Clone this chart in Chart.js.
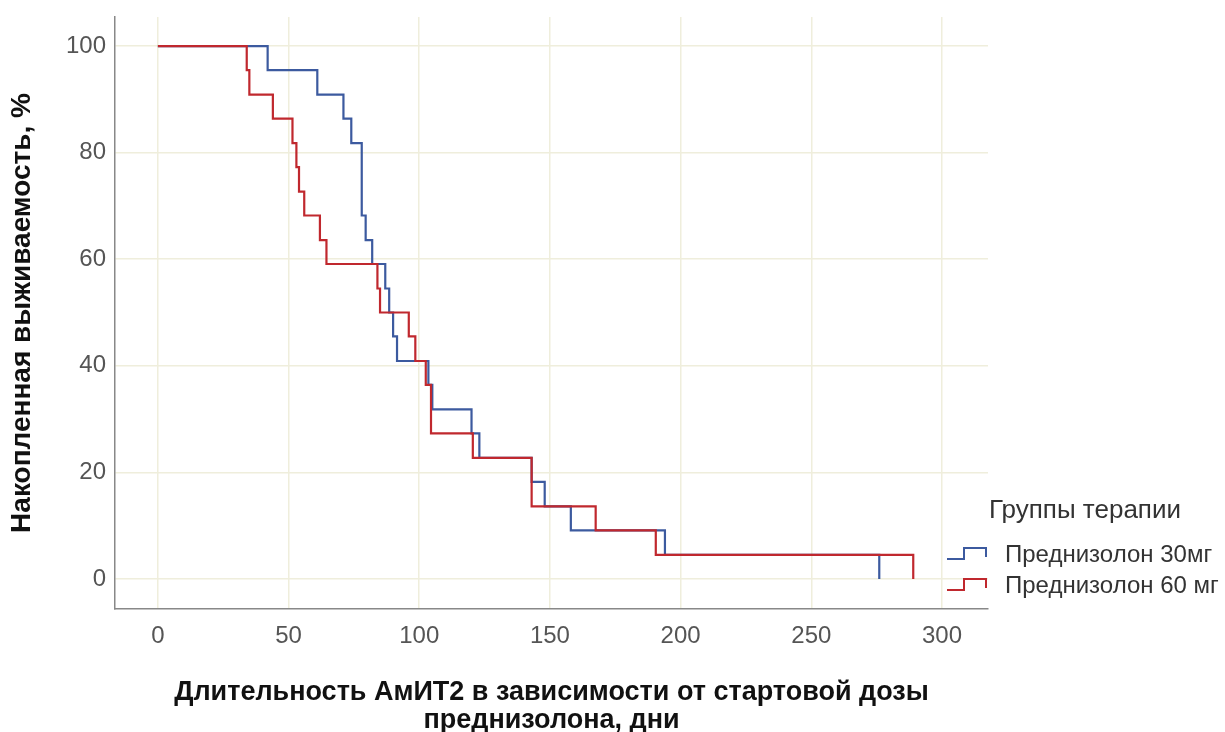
<!DOCTYPE html>
<html>
<head>
<meta charset="utf-8">
<script src="https://cdn.jsdelivr.net/npm/chart.js@4"></script>
<style>
  html, body { margin: 0; padding: 0; background: #fff; }
  canvas { display: block; }
</style>
</head>
<body>
<canvas id="survChart" width="1225" height="732"></canvas>
<script>
// Данные кривых Каплана-Мейера (время в днях, выживаемость в %)
const blueTimes = [0, 42, 61, 71, 74, 78, 79.5, 82, 87, 88.5, 90, 91.5, 103.5, 105, 120, 123, 143, 148, 158, 194, 276];
const blueSurv  = [100, 95.5, 90.9, 86.4, 81.8, 68.2, 63.6, 59.1, 54.5, 50, 45.5, 40.9, 36.4, 31.8, 27.3, 22.7, 18.2, 13.6, 9.1, 4.5, 0];

const redTimes = [0, 34, 35, 44, 51.5, 53, 54, 56, 62, 64.5, 84, 85, 96, 98.5, 102.5, 104.5, 120.5, 143, 167.5, 190.5, 289];
const redSurv  = [100, 95.5, 90.9, 86.4, 81.8, 77.3, 72.7, 68.2, 63.6, 59.1, 54.5, 50, 45.5, 40.9, 36.4, 27.3, 22.7, 13.6, 9.1, 4.5, 0];

const xTicks = [0, 50, 100, 150, 200, 250, 300];
const yTicks = [0, 20, 40, 60, 80, 100];

const groupLabels = ['Преднизолон 30мг', 'Преднизолон 60 мг'];
const legendTitle = 'Группы терапии';

const BLUE = '#3c5a9f';
const RED = '#c0282e';
const FONT = '"Liberation Sans", Arial, sans-serif';

function toPoints(times, surv) {
    return times.map((t, i) => ({ x: t, y: surv[i] }));
}

// легенда справа со ступенчатыми значками
const stepLegend = {
    id: 'stepLegend',
    afterDraw(chart) {
        const ctx = chart.ctx;
        ctx.save();
        ctx.textBaseline = 'middle';
        ctx.textAlign = 'left';
        ctx.fillStyle = '#333';
        ctx.font = '26px ' + FONT;
        ctx.fillText(legendTitle, 989, 511);

        ctx.font = '24px ' + FONT;
        const colors = [BLUE, RED];
        const rows = [555, 586];
        rows.forEach((y, i) => {
            ctx.strokeStyle = colors[i];
            ctx.lineWidth = 2;
            ctx.beginPath();
            ctx.moveTo(947, y + 4);
            ctx.lineTo(964, y + 4);
            ctx.lineTo(964, y - 7);
            ctx.lineTo(986, y - 7);
            ctx.lineTo(986, y + 2);
            ctx.stroke();
            ctx.fillStyle = '#333';
            ctx.fillText(groupLabels[i], 1005, y);
        });
        ctx.restore();
    }
};

const ctx = document.getElementById('survChart').getContext('2d');

new Chart(ctx, {
    type: 'line',
    data: {
        datasets: [
            {
                label: groupLabels[1],
                data: toPoints(redTimes, redSurv),
                borderColor: RED,
                borderWidth: 2.2,
                stepped: 'before',
                pointRadius: 0,
                fill: false,
                order: 0
            },
            {
                label: groupLabels[0],
                data: toPoints(blueTimes, blueSurv),
                borderColor: BLUE,
                borderWidth: 2.2,
                stepped: 'before',
                pointRadius: 0,
                fill: false,
                order: 1
            }
        ]
    },
    options: {
        responsive: false,
        animation: false,
        layout: {
            padding: { top: 17, right: 237, left: 0, bottom: 0 }
        },
        plugins: {
            legend: { display: false },
            tooltip: { enabled: false }
        },
        scales: {
            x: {
                type: 'linear',
                min: -16.4,
                max: 317.6,
                afterBuildTicks: scale => { scale.ticks = xTicks.map(v => ({ value: v })); },
                afterFit: scale => { scale.height = 123; },
                grid: {
                    color: '#efeedc',
                    lineWidth: 1.5,
                    drawTicks: false
                },
                border: { color: '#888', width: 1.5 },
                ticks: {
                    padding: 13,
                    color: '#555',
                    font: { family: FONT, size: 24 }
                },
                title: {
                    display: true,
                    text: ['Длительность АмИТ2 в зависимости от стартовой дозы', 'преднизолона, дни'],
                    color: '#111',
                    font: { family: FONT, size: 27, weight: 'bold', lineHeight: 1.06 },
                    padding: { top: 0, bottom: -3 }
                }
            },
            y: {
                type: 'linear',
                min: -5.65,
                max: 105.46,
                afterBuildTicks: scale => { scale.ticks = yTicks.map(v => ({ value: v })); },
                afterFit: scale => { scale.width = 115; scale.paddingTop = 0; },
                grid: {
                    color: '#efeedc',
                    lineWidth: 1.5,
                    drawTicks: false
                },
                border: { color: '#888', width: 1.5 },
                ticks: {
                    padding: 9,
                    color: '#555',
                    font: { family: FONT, size: 24, lineHeight: 0.9 }
                },
                title: {
                    display: true,
                    text: 'Накопленная выживаемость, %',
                    color: '#111',
                    font: { family: FONT, size: 28, weight: 'bold', lineHeight: 1.2 },
                    padding: { top: 5, bottom: 0 }
                }
            }
        }
    },
    plugins: [stepLegend]
});
</script>
</body>
</html>
